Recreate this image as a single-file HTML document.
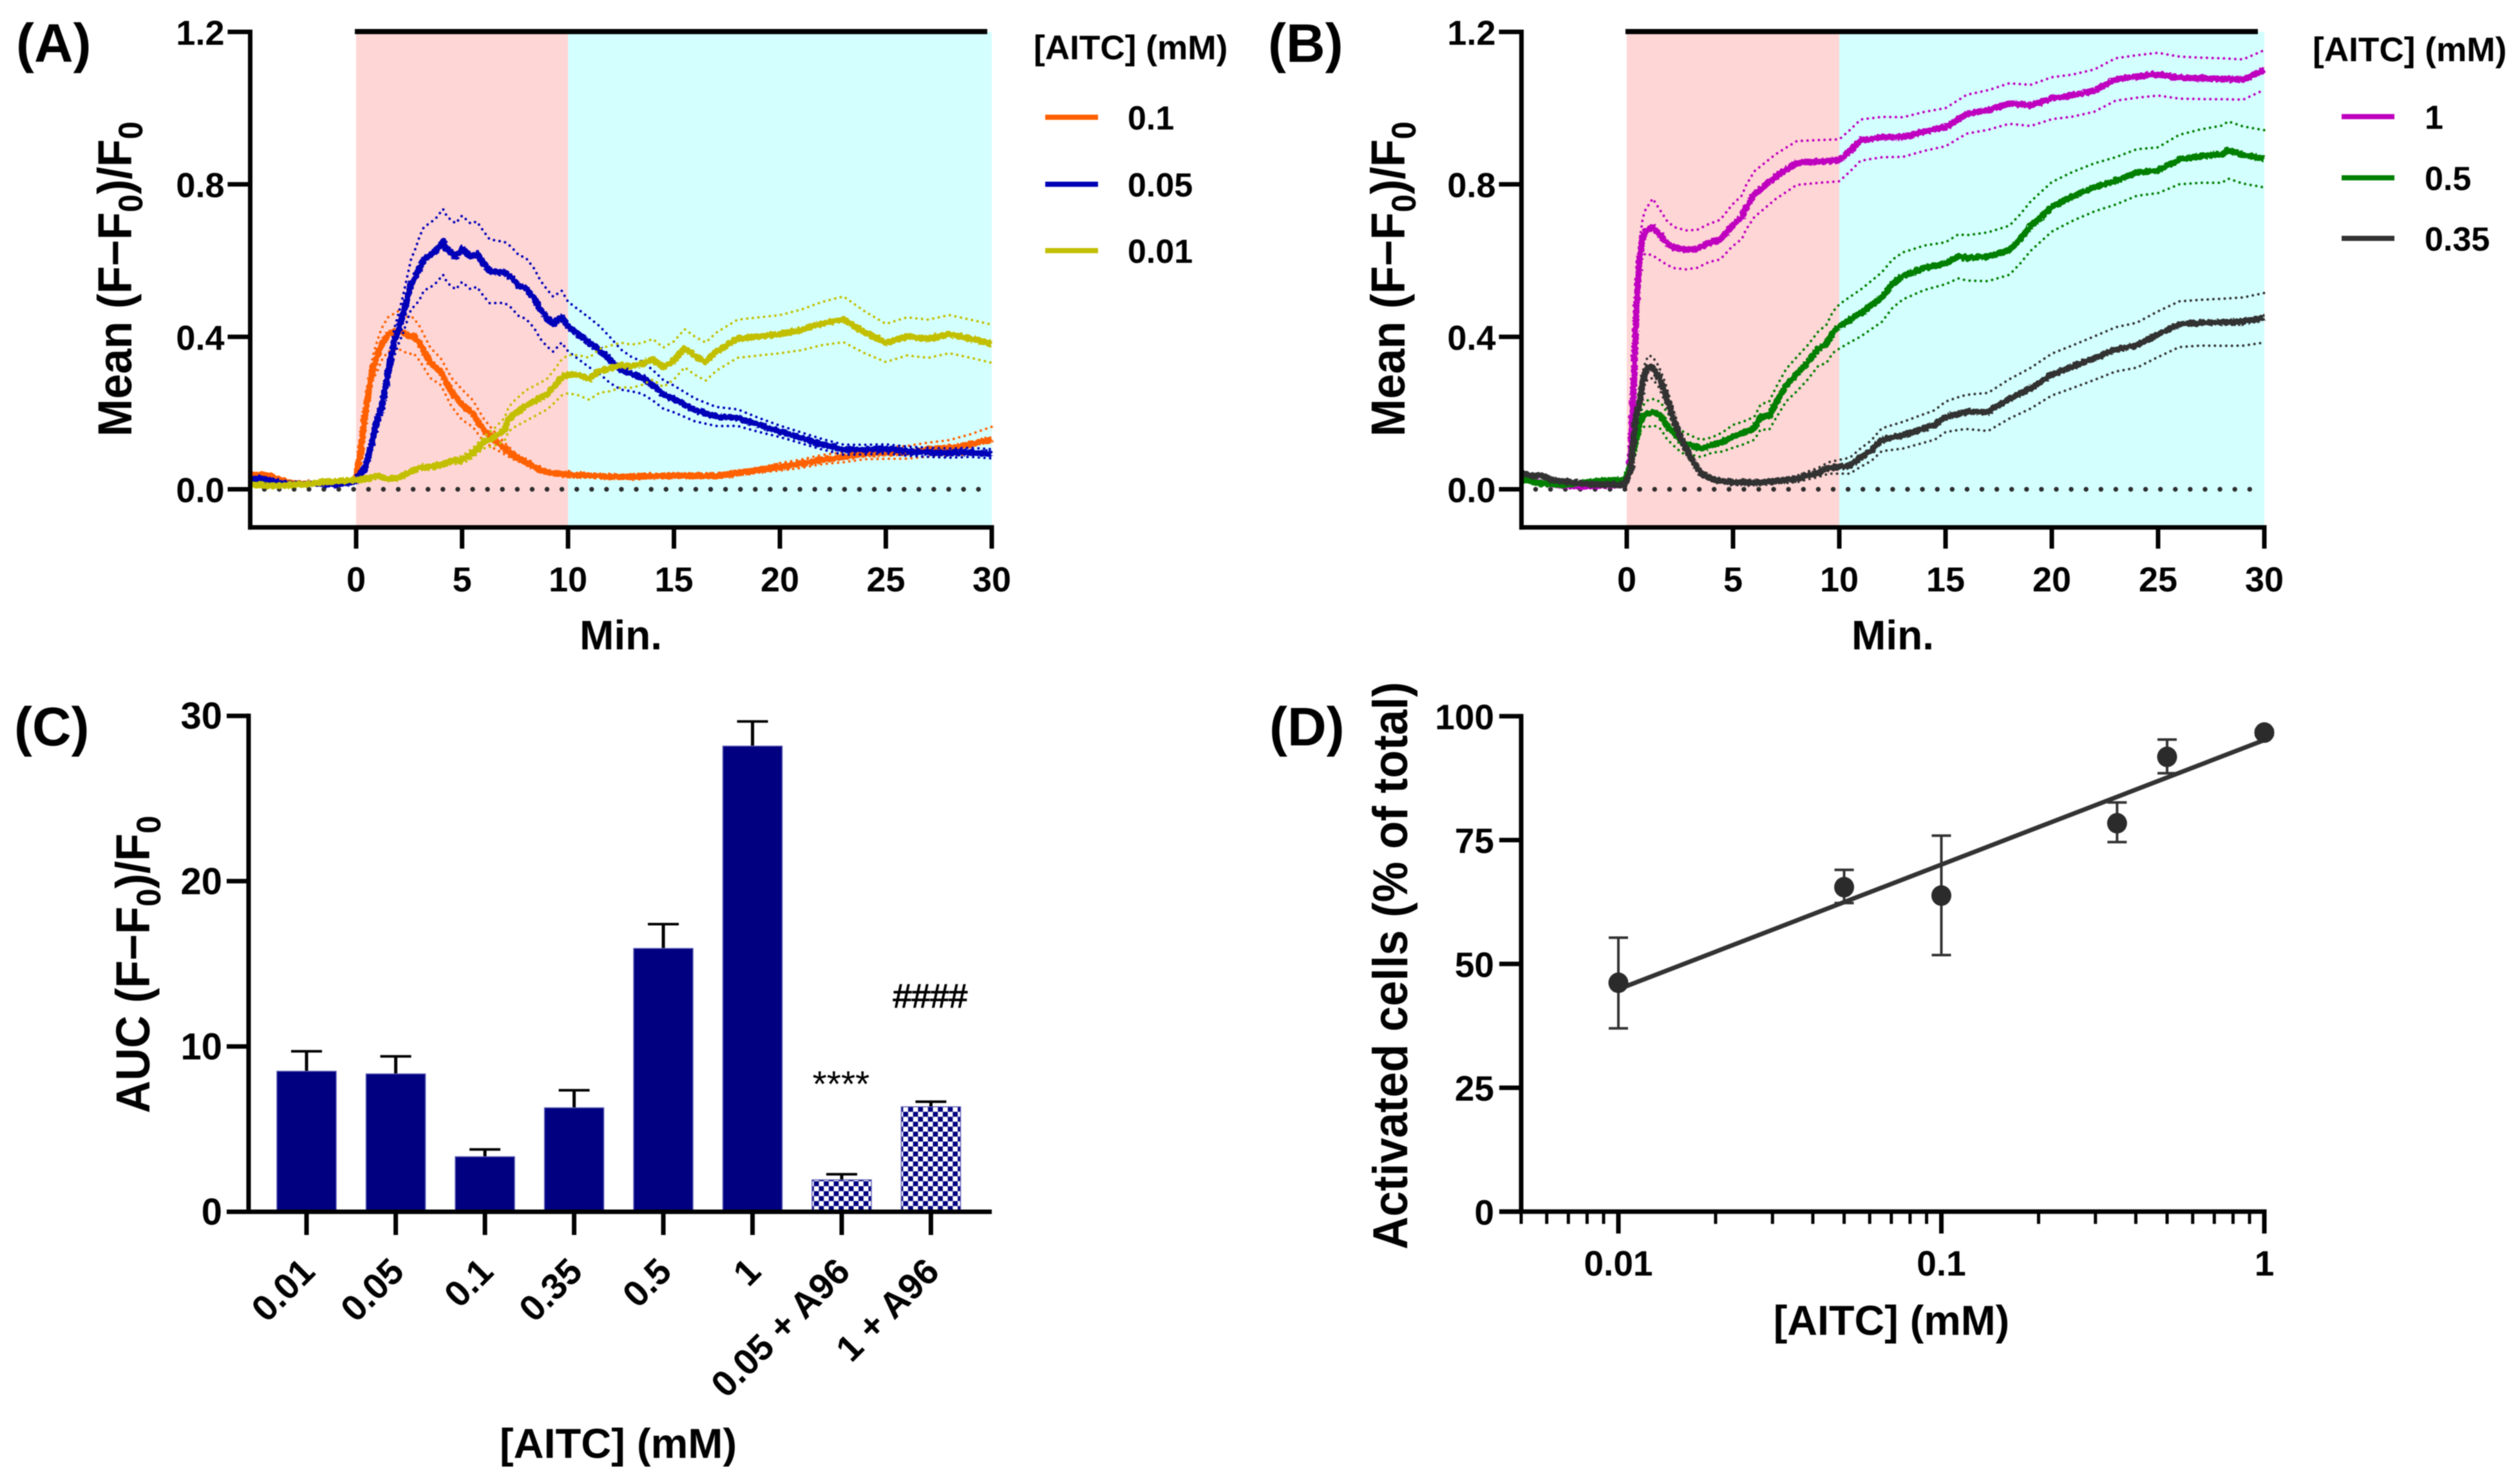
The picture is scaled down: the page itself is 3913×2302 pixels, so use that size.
<!DOCTYPE html>
<html lang="en">
<head>
<meta charset="utf-8">
<title>AITC calcium response figure</title>
<style>
html,body{margin:0;padding:0;background:#fff;}
svg{display:block;filter:blur(0.9px);}
text{font-family:"Liberation Sans",sans-serif;font-weight:700;fill:#000;}
</style>
</head>
<body>
<svg id="fig" xmlns="http://www.w3.org/2000/svg" width="3913" height="2302" viewBox="0 0 3913 2302">
<defs>
<pattern id="checker" width="15.4" height="15.4" patternUnits="userSpaceOnUse" x="1" y="1">
<rect width="15.4" height="15.4" fill="#fff"/>
<rect width="7.7" height="7.7" fill="#000080"/>
<rect x="7.7" y="7.7" width="7.7" height="7.7" fill="#000080"/>
</pattern>
<filter id="trace-fuzz" filterUnits="userSpaceOnUse" x="0" y="0" width="3913" height="1000">
<feTurbulence type="fractalNoise" baseFrequency="0.22" numOctaves="2" seed="4" result="n"/>
<feDisplacementMap in="SourceGraphic" in2="n" scale="7" xChannelSelector="R" yChannelSelector="G"/>
</filter>
</defs>

<g id="panel-a">
<text x="25" y="96" font-size="84">(A)</text>
<text transform="translate(204,433) rotate(-90) scale(1,1.06)" text-anchor="middle" font-size="70">Mean (F−F<tspan font-size="50" dy="16">0</tspan><tspan dy="-16">)/F</tspan><tspan font-size="50" dy="16">0</tspan></text>
<text x="964" y="1008" text-anchor="middle" font-size="64">Min.</text>
<text x="1605" y="92" font-size="53.2">[AITC] (mM)</text>
<g>
<line x1="1623" x2="1705" y1="182" y2="182" stroke="#ff6000" stroke-width="8"/>
<text x="1751" y="201" font-size="52">0.1</text>
<line x1="1623" x2="1705" y1="286" y2="286" stroke="#0000b8" stroke-width="8"/>
<text x="1751" y="305" font-size="52">0.05</text>
<line x1="1623" x2="1705" y1="389" y2="389" stroke="#c2bf00" stroke-width="8"/>
<text x="1751" y="408" font-size="52">0.01</text>
</g>
</g>

<g id="panel-b">
<text x="1969" y="96" font-size="84">(B)</text>
<text transform="translate(2181,433) rotate(-90) scale(1,1.06)" text-anchor="middle" font-size="70">Mean (F−F<tspan font-size="50" dy="16">0</tspan><tspan dy="-16">)/F</tspan><tspan font-size="50" dy="16">0</tspan></text>
<text x="2939" y="1008" text-anchor="middle" font-size="64">Min.</text>
<text x="3591" y="95" font-size="53.2">[AITC] (mM)</text>
<g>
<line x1="3636" x2="3718" y1="181" y2="181" stroke="#bf00bf" stroke-width="8"/>
<text x="3765" y="200" font-size="52">1</text>
<line x1="3636" x2="3718" y1="276" y2="276" stroke="#007f00" stroke-width="8"/>
<text x="3765" y="295" font-size="52">0.5</text>
<line x1="3636" x2="3718" y1="370" y2="370" stroke="#333333" stroke-width="8"/>
<text x="3765" y="389" font-size="52">0.35</text>
</g>
</g>

<g id="panel-c">
<text x="22" y="1157" font-size="84">(C)</text>
<text transform="translate(232,1497) rotate(-90) scale(1,1.06)" text-anchor="middle" font-size="70">AUC (F−F<tspan font-size="50" dy="16">0</tspan><tspan dy="-16">)/F</tspan><tspan font-size="50" dy="16">0</tspan></text>
<text x="960" y="2263" text-anchor="middle" font-size="65">[AITC] (mM)</text>
<text x="1306" y="1702" text-anchor="middle" font-size="57" style="font-weight:400">****</text>
<text x="1444.5" y="1564" text-anchor="middle" font-size="52" style="font-weight:400;stroke:#000;stroke-width:1.2">####</text>
</g>

<g id="panel-d">
<text x="1971" y="1157" font-size="84">(D)</text>
<text transform="translate(2185,1499) rotate(-90) scale(1,1.08)" text-anchor="middle" font-size="70.8">Activated cells (% of total)</text>
<text x="2937" y="2072" text-anchor="middle" font-size="64.7">[AITC] (mM)</text>
</g>
</svg>

<script>
// ---------- shared tick labels ----------
const timeTicks = [0, 5, 10, 15, 20, 25, 30];
const responseTicks = [0, 0.4, 0.8, 1.2];
const responseTickLabels = ['0.0', '0.4', '0.8', '1.2'];

// ---------- Panel A series: mean trace and half-width of dotted SEM band ----------
const aOrangeT = [-5,-4.5,-4.27,-3.5,-3,-2,-1,-0.2,0,0.2,0.4,0.6,0.8,1,1.2,1.5,2,2.5,2.7,3,3.5,4,4.5,5,5.5,6,6.5,7,7.5,8,8.5,9,10,11,12,13,14,15,17,19,20,21,22,23,24,25,26,27,28,29,30];
const aOrangeY = [0.036,0.038,0.038,0.024,0.015,0.015,0.015,0.02,0.03,0.095,0.184,0.26,0.32,0.35,0.38,0.406,0.418,0.402,0.404,0.382,0.332,0.308,0.255,0.222,0.199,0.157,0.13,0.107,0.086,0.071,0.056,0.044,0.039,0.036,0.033,0.033,0.035,0.036,0.035,0.05,0.059,0.067,0.078,0.084,0.093,0.095,0.097,0.104,0.109,0.118,0.131];
const aOrangeErrT = [-5,0,0.5,1,2,3,4,5,6,7,8,19,20,25,28,30];
const aOrangeErr = [0.005,0.005,0.02,0.04,0.05,0.045,0.035,0.04,0.03,0.015,0.005,0.006,0.01,0.015,0.02,0.033];

const aBlueT = [-5,-4.5,-4,-3.5,-3,-2,-1,0,0.2,0.4,0.6,0.8,1,1.2,1.4,1.6,1.8,2,2.2,2.4,2.6,2.8,3,3.2,3.5,3.8,4.1,4.3,4.7,5,5.4,5.7,6,6.3,7,7.3,7.7,8,8.4,8.7,9,9.3,9.7,10,10.5,11,11.5,12,12.5,13,13.5,14,14.5,15,16,17,18,19,20,21,22,23,24,25,26,27,28,29,30];
const aBlueY = [0.027,0.028,0.022,0.015,0.012,0.015,0.012,0.021,0.044,0.053,0.089,0.136,0.184,0.213,0.273,0.332,0.385,0.421,0.456,0.498,0.539,0.557,0.581,0.605,0.614,0.628,0.649,0.628,0.611,0.631,0.611,0.617,0.593,0.572,0.569,0.557,0.533,0.528,0.501,0.471,0.45,0.433,0.453,0.427,0.406,0.385,0.365,0.338,0.314,0.302,0.293,0.273,0.249,0.237,0.208,0.191,0.188,0.169,0.152,0.135,0.118,0.104,0.104,0.106,0.1,0.097,0.095,0.097,0.093];
const aBlueErrT = [-5,0,1,2,3,4,5,6,7,8,9,10,11,12,13,15,17,20,25,30];
const aBlueErr = [0.005,0.005,0.02,0.04,0.083,0.086,0.087,0.085,0.08,0.08,0.075,0.065,0.065,0.06,0.045,0.035,0.025,0.015,0.012,0.012];

const aYellowT = [-5,-4,-3,-2,-1.2,0,0.5,1,1.5,2,2.5,3,3.5,4,4.5,5,5.5,6,6.5,7,7.2,7.5,8,8.5,9,9.3,9.7,10,10.5,11,11.5,12,12.5,13,13.5,14,14.5,15,15.5,16,16.5,17,18,19,20,21,22,23,24,25,26,27,28,29,30];
const aYellowY = [0.012,0.009,0.011,0.015,0.021,0.024,0.027,0.036,0.027,0.03,0.044,0.056,0.059,0.065,0.074,0.077,0.095,0.122,0.136,0.157,0.184,0.199,0.219,0.234,0.249,0.267,0.293,0.302,0.299,0.29,0.311,0.317,0.326,0.323,0.329,0.341,0.32,0.338,0.37,0.35,0.335,0.361,0.395,0.401,0.407,0.418,0.435,0.446,0.412,0.384,0.401,0.395,0.407,0.395,0.382];
const aYellowErrT = [-5,4,5,6,7,8,9,10,12,15,20,23,25,30];
const aYellowErr = [0.005,0.005,0.01,0.015,0.03,0.04,0.04,0.05,0.06,0.05,0.05,0.06,0.05,0.05];

// ---------- Panel B series ----------
const bMagentaT = [-5,-4,-3,-2,-1,-0.1,0.1,0.2,0.34,0.47,0.61,0.75,0.88,1.22,1.56,1.9,2.24,2.78,3.32,3.86,4.4,4.95,5.42,5.6,6,7,8,9,10,10.5,11,12,13,14,15,16,17,18,19,20,21,22,23,24,25,26,27,28,29,30];
const bMagentaY = [0.033,0.015,0.01,0.008,0.01,0.012,0.04,0.095,0.302,0.492,0.616,0.661,0.676,0.688,0.667,0.646,0.634,0.628,0.631,0.646,0.655,0.691,0.714,0.738,0.774,0.82,0.856,0.86,0.863,0.888,0.916,0.924,0.924,0.939,0.95,0.984,0.995,1.012,1.007,1.026,1.033,1.046,1.075,1.083,1.089,1.08,1.078,1.077,1.075,1.1];
const bMagentaErrT = [-5,0,0.3,0.75,1.2,2,3,4,5,6,10,15,20,25,30];
const bMagentaErr = [0.005,0.005,0.01,0.05,0.075,0.055,0.05,0.05,0.055,0.06,0.055,0.05,0.055,0.056,0.052];

const bGreenT = [-5,-4.5,-4,-3,-2,-1,-0.1,0.2,0.4,0.6,0.8,1,1.3,1.6,1.9,2.2,2.6,3,3.5,4,4.5,5,5.5,6,6.3,6.7,7,7.5,8,8.5,9,9.4,9.7,10,10.5,11,11.5,12,12.5,13,14,15,15.6,16,17,18,18.5,19,20,21,22,23,24,25,26,27,28,28.3,29,30];
const bGreenY = [0.027,0.021,0.015,0.011,0.018,0.023,0.024,0.065,0.124,0.172,0.193,0.199,0.202,0.193,0.166,0.148,0.124,0.116,0.107,0.116,0.124,0.139,0.148,0.16,0.19,0.193,0.225,0.273,0.302,0.332,0.368,0.382,0.412,0.427,0.445,0.462,0.483,0.504,0.539,0.56,0.581,0.593,0.611,0.607,0.61,0.627,0.656,0.69,0.741,0.769,0.792,0.809,0.831,0.837,0.865,0.874,0.879,0.89,0.877,0.867];
const bGreenErrT = [-5,0,1,2,3,4,5,6,7,8,9,10,12,15,17,20,25,28,30];
const bGreenErr = [0.005,0.005,0.035,0.035,0.025,0.02,0.03,0.03,0.04,0.045,0.045,0.058,0.065,0.055,0.064,0.065,0.06,0.075,0.075];

const bDarkT = [-5,-4.5,-4,-3.5,-3,-2,-1,-0.1,0.2,0.4,0.6,0.8,1,1.2,1.5,1.8,2.1,2.4,2.7,3,3.5,4,4.5,5,6,7,8,8.5,9,9.5,10,10.5,11,11.5,12,12.5,13,14,14.5,15,15.7,16,17,18,19,20,21,22,23,24,25,26,27,28,29,30];
const bDarkY = [0.044,0.036,0.036,0.024,0.021,0.015,0.012,0.012,0.053,0.184,0.225,0.296,0.32,0.32,0.296,0.255,0.202,0.154,0.116,0.083,0.041,0.027,0.021,0.018,0.017,0.021,0.027,0.036,0.044,0.056,0.059,0.062,0.083,0.101,0.13,0.136,0.142,0.16,0.169,0.19,0.2,0.203,0.203,0.237,0.265,0.301,0.322,0.344,0.367,0.378,0.407,0.433,0.437,0.438,0.44,0.45];
const bDarkErrT = [-5,0,1,2,3,4,7,9,10,12,13,15,17,20,25,27,30];
const bDarkErr = [0.005,0.005,0.03,0.025,0.01,0.005,0.005,0.012,0.018,0.03,0.035,0.04,0.05,0.055,0.06,0.06,0.065];

// ---------- Panel C data ----------
const barCategories = ['0.01','0.05','0.1','0.35','0.5','1','0.05 + A96','1 + A96'];
const barValues = [8.5,8.34,3.33,6.29,15.93,28.17,1.93,6.35];
const barErrTops = [9.71,9.4,3.77,7.35,17.4,29.66,2.27,6.66];
const barIsAntagonist = [false,false,false,false,false,false,true,true];
const aucTicks = [0,10,20,30];

// ---------- Panel D data ----------
const doseValues = [0.01,0.05,0.1,0.35,0.5,1];
const activatedMean = [46.2,65.5,63.8,78.4,91.8,96.7];
const activatedErrHigh = [55.3,69,75.9,82.6,95.3,97.2];
const activatedErrLow = [37,62.3,51.8,74.6,88.5,96.2];
const fitDoses = [0.01,1];
const fitValues = [44.9,95.2];
const activatedTicks = [0,25,50,75,100];
const doseMajorTicks = [0.01,0.1,1];
const doseMajorLabels = ['0.01','0.1','1'];
const doseMinorTicks = [0.005,0.006,0.007,0.008,0.009,0.02,0.03,0.04,0.05,0.06,0.07,0.08,0.09,0.2,0.3,0.4,0.5,0.6,0.7,0.8,0.9];

const NS = 'http://www.w3.org/2000/svg';
function svgEl(parent, tag, attrs, txt) {
  const node = document.createElementNS(NS, tag);
  for (const k in attrs) node.setAttribute(k, attrs[k]);
  if (txt !== undefined) node.textContent = txt;
  parent.appendChild(node);
  return node;
}
function lookup(ts, vs, t) {
  if (t <= ts[0]) return vs[0];
  for (let i = 1; i < ts.length; i++) {
    if (t <= ts[i]) {
      const f = (t - ts[i-1]) / (ts[i] - ts[i-1]);
      return vs[i-1] + f * (vs[i] - vs[i-1]);
    }
  }
  return vs[vs.length-1];
}

function drawTimecourse(panelId, xLeft, x0, pxPerMin, legendBarEnd, tickLabelW, seriesList) {
  const panel = document.getElementById(panelId);
  const sx = t => x0 + t * pxPerMin;
  const sy = v => 759.5 - v * 591.7;
  const xEnd = sx(30);
  const yTop = sy(1.2), yBot = sy(-0.1);

  const pink = svgEl(panel, 'rect', {x: sx(0), y: yTop, width: sx(10)-sx(0), height: yBot-yTop, fill: '#ffd6d6'});
  
  
  const cyan = svgEl(panel, 'rect', {x: sx(10), y: yTop, width: sx(30)-sx(10), height: yBot-yTop, fill: '#d4ffff'});
  
  
  const bar = svgEl(panel, 'line', {x1: sx(0)-2, x2: legendBarEnd, y1: 49, y2: 49, stroke: '#000', 'stroke-width': 8});
  
  

  const zero = svgEl(panel, 'line', {x1: xLeft+22, x2: xEnd-17, y1: sy(0), y2: sy(0), stroke: '#2e2e2e', 'stroke-width': 7.5, 'stroke-linecap': 'round', 'stroke-dasharray': '0 23.1'});
  
  

  seriesList.forEach(s => {
    const mean = s.t.map((t, i) => [sx(t), sy(s.y[i])]);
    const up = s.t.map((t, i) => [sx(t), sy(s.y[i] + lookup(s.errT, s.err, t))]);
    const lo = s.t.map((t, i) => [sx(t), sy(s.y[i] - lookup(s.errT, s.err, t))]);
    const toD = pts => 'M' + pts.map(p => p[0].toFixed(1) + ' ' + p[1].toFixed(1)).join('L');
    const upper = svgEl(panel, 'path', {d: toD(up), fill: 'none', stroke: s.color, 'stroke-width': 4, 'stroke-linecap': 'round', 'stroke-dasharray': '0 8.8'});
    
    
    const lower = svgEl(panel, 'path', {d: toD(lo), fill: 'none', stroke: s.color, 'stroke-width': 4, 'stroke-linecap': 'round', 'stroke-dasharray': '0 8.8'});
    
    
    const line = svgEl(panel, 'path', {d: toD(mean), fill: 'none', stroke: s.color, 'stroke-width': 10, 'stroke-linejoin': 'round', filter: 'url(#trace-fuzz)'});
    
    
  });

  const yAxis = svgEl(panel, 'line', {x1: xLeft, x2: xLeft, y1: yTop-3.5, y2: yBot+3.5, stroke: '#000', 'stroke-width': 7});
  
  
  const xAxis = svgEl(panel, 'line', {x1: xLeft-3.5, x2: xEnd+3.5, y1: yBot, y2: yBot, stroke: '#000', 'stroke-width': 7});
  
  

  responseTicks.forEach((v, i) => {
    const tick = svgEl(panel, 'line', {x1: xLeft-35, x2: xLeft, y1: sy(v), y2: sy(v), stroke: '#000', 'stroke-width': 7});
    
    
    const label = svgEl(panel, 'text', {x: xLeft-tickLabelW, y: sy(v)+20, 'text-anchor': 'end', 'font-size': 54}, responseTickLabels[i]);
    
    
  });
  timeTicks.forEach(t => {
    const tick = svgEl(panel, 'line', {x1: sx(t), x2: sx(t), y1: yBot, y2: yBot+33, stroke: '#000', 'stroke-width': 7});
    
    
    const label = svgEl(panel, 'text', {x: sx(t), y: 918, 'text-anchor': 'middle', 'font-size': 54}, String(t));
    
    
  });
}

drawTimecourse('panel-a', 388.5, 553, 32.9, 1533, 40, [
  {name: '0.1', color: '#ff6000', t: aOrangeT, y: aOrangeY, errT: aOrangeErrT, err: aOrangeErr},
  {name: '0.05', color: '#0000b8', t: aBlueT, y: aBlueY, errT: aBlueErrT, err: aBlueErr},
  {name: '0.01', color: '#c2bf00', t: aYellowT, y: aYellowY, errT: aYellowErrT, err: aYellowErr}
]);
drawTimecourse('panel-b', 2362.5, 2526, 33, 3506, 40, [
  {name: '1', color: '#bf00bf', t: bMagentaT, y: bMagentaY, errT: bMagentaErrT, err: bMagentaErr},
  {name: '0.5', color: '#007f00', t: bGreenT, y: bGreenY, errT: bGreenErrT, err: bGreenErr},
  {name: '0.35', color: '#333333', t: bDarkT, y: bDarkY, errT: bDarkErrT, err: bDarkErr}
]);

// ---------- Panel C ----------
(function () {
  const panel = document.getElementById('panel-c');
  const sx = i => 476 + i * 138.5;
  const sy = v => 1881 - v * 25.66;
  barCategories.forEach((cat, i) => {
    const stem = svgEl(panel, 'line', {x1: sx(i), x2: sx(i), y1: sy(barValues[i]), y2: sy(barErrTops[i]), stroke: '#000', 'stroke-width': 5});
    
    
    const cap = svgEl(panel, 'line', {x1: sx(i)-24, x2: sx(i)+24, y1: sy(barErrTops[i]), y2: sy(barErrTops[i]), stroke: '#000', 'stroke-width': 4});
    
    
    const bar = svgEl(panel, 'rect', {x: sx(i)-46, y: sy(barValues[i]), width: 92, height: sy(0)-sy(barValues[i]), fill: barIsAntagonist[i] ? 'url(#checker)' : '#000080', stroke: '#5a5ab4', 'stroke-width': 1.5});
    
    
    const tick = svgEl(panel, 'line', {x1: sx(i), x2: sx(i), y1: sy(0), y2: sy(0)+36, stroke: '#000', 'stroke-width': 7});
    
    
    const label = svgEl(panel, 'text', {transform: 'translate(' + (sx(i)+16) + ',1977) rotate(-45)', 'text-anchor': 'end', 'font-size': 56.5}, cat);
    
    
  });
  const yAxis = svgEl(panel, 'line', {x1: 386, x2: 386, y1: sy(30)-3.5, y2: sy(0), stroke: '#000', 'stroke-width': 7});
  
  
  const xAxis = svgEl(panel, 'line', {x1: 352, x2: 1540, y1: sy(0), y2: sy(0), stroke: '#000', 'stroke-width': 7});
  
  
  aucTicks.forEach(v => {
    const tick = svgEl(panel, 'line', {x1: 352, x2: 386, y1: sy(v), y2: sy(v), stroke: '#000', 'stroke-width': 7});
    
    
    const label = svgEl(panel, 'text', {x: 345, y: sy(v)+20, 'text-anchor': 'end', 'font-size': 58}, String(v));
    
    
  });
})();

// ---------- Panel D ----------
(function () {
  const panel = document.getElementById('panel-d');
  const sx = d => 3516 + Math.log10(d) * 501.5;
  const sy = v => 1880.8 - v * 7.69;
  const baseY = sy(0);
  const axisX = sx(0.005);

  const fit = svgEl(panel, 'path', {d: 'M' + fitDoses.map((d, i) => sx(d) + ' ' + sy(fitValues[i])).join('L'), fill: 'none', stroke: '#333', 'stroke-width': 7});
  
  

  doseValues.forEach((d, i) => {
    const x = sx(d);
    const stem = svgEl(panel, 'line', {x1: x, x2: x, y1: sy(activatedErrHigh[i]), y2: sy(activatedErrLow[i]), stroke: '#333', 'stroke-width': 4});
    
    
    [activatedErrHigh[i], activatedErrLow[i]].forEach(v => {
      const cap = svgEl(panel, 'line', {x1: x-15, x2: x+15, y1: sy(v), y2: sy(v), stroke: '#333', 'stroke-width': 4});
      
      
    });
    const dot = svgEl(panel, 'ellipse', {cx: x, cy: sy(activatedMean[i]), rx: 15.5, ry: 16, fill: '#2b2b2b'});
    
    
  });

  const yAxis = svgEl(panel, 'line', {x1: axisX, x2: axisX, y1: sy(100)-3.5, y2: baseY, stroke: '#000', 'stroke-width': 7});
  
  
  const xAxis = svgEl(panel, 'line', {x1: axisX-34, x2: sx(1)+3.5, y1: baseY, y2: baseY, stroke: '#000', 'stroke-width': 7});
  
  

  activatedTicks.forEach(v => {
    const tick = svgEl(panel, 'line', {x1: axisX-34, x2: axisX, y1: sy(v), y2: sy(v), stroke: '#000', 'stroke-width': 7});
    
    
    const label = svgEl(panel, 'text', {x: axisX-42, y: sy(v)+20, 'text-anchor': 'end', 'font-size': 55}, String(v));
    
    
  });
  doseMinorTicks.forEach(d => {
    const tick = svgEl(panel, 'line', {x1: sx(d), x2: sx(d), y1: baseY, y2: baseY+19, stroke: '#000', 'stroke-width': 5});
    
    
  });
  doseMajorTicks.forEach((d, i) => {
    const tick = svgEl(panel, 'line', {x1: sx(d), x2: sx(d), y1: baseY, y2: baseY+34, stroke: '#000', 'stroke-width': 7});
    
    
    const label = svgEl(panel, 'text', {x: sx(d), y: 1980, 'text-anchor': 'middle', 'font-size': 55}, doseMajorLabels[i]);
    
    
  });
})();
</script>
</body>
</html>
